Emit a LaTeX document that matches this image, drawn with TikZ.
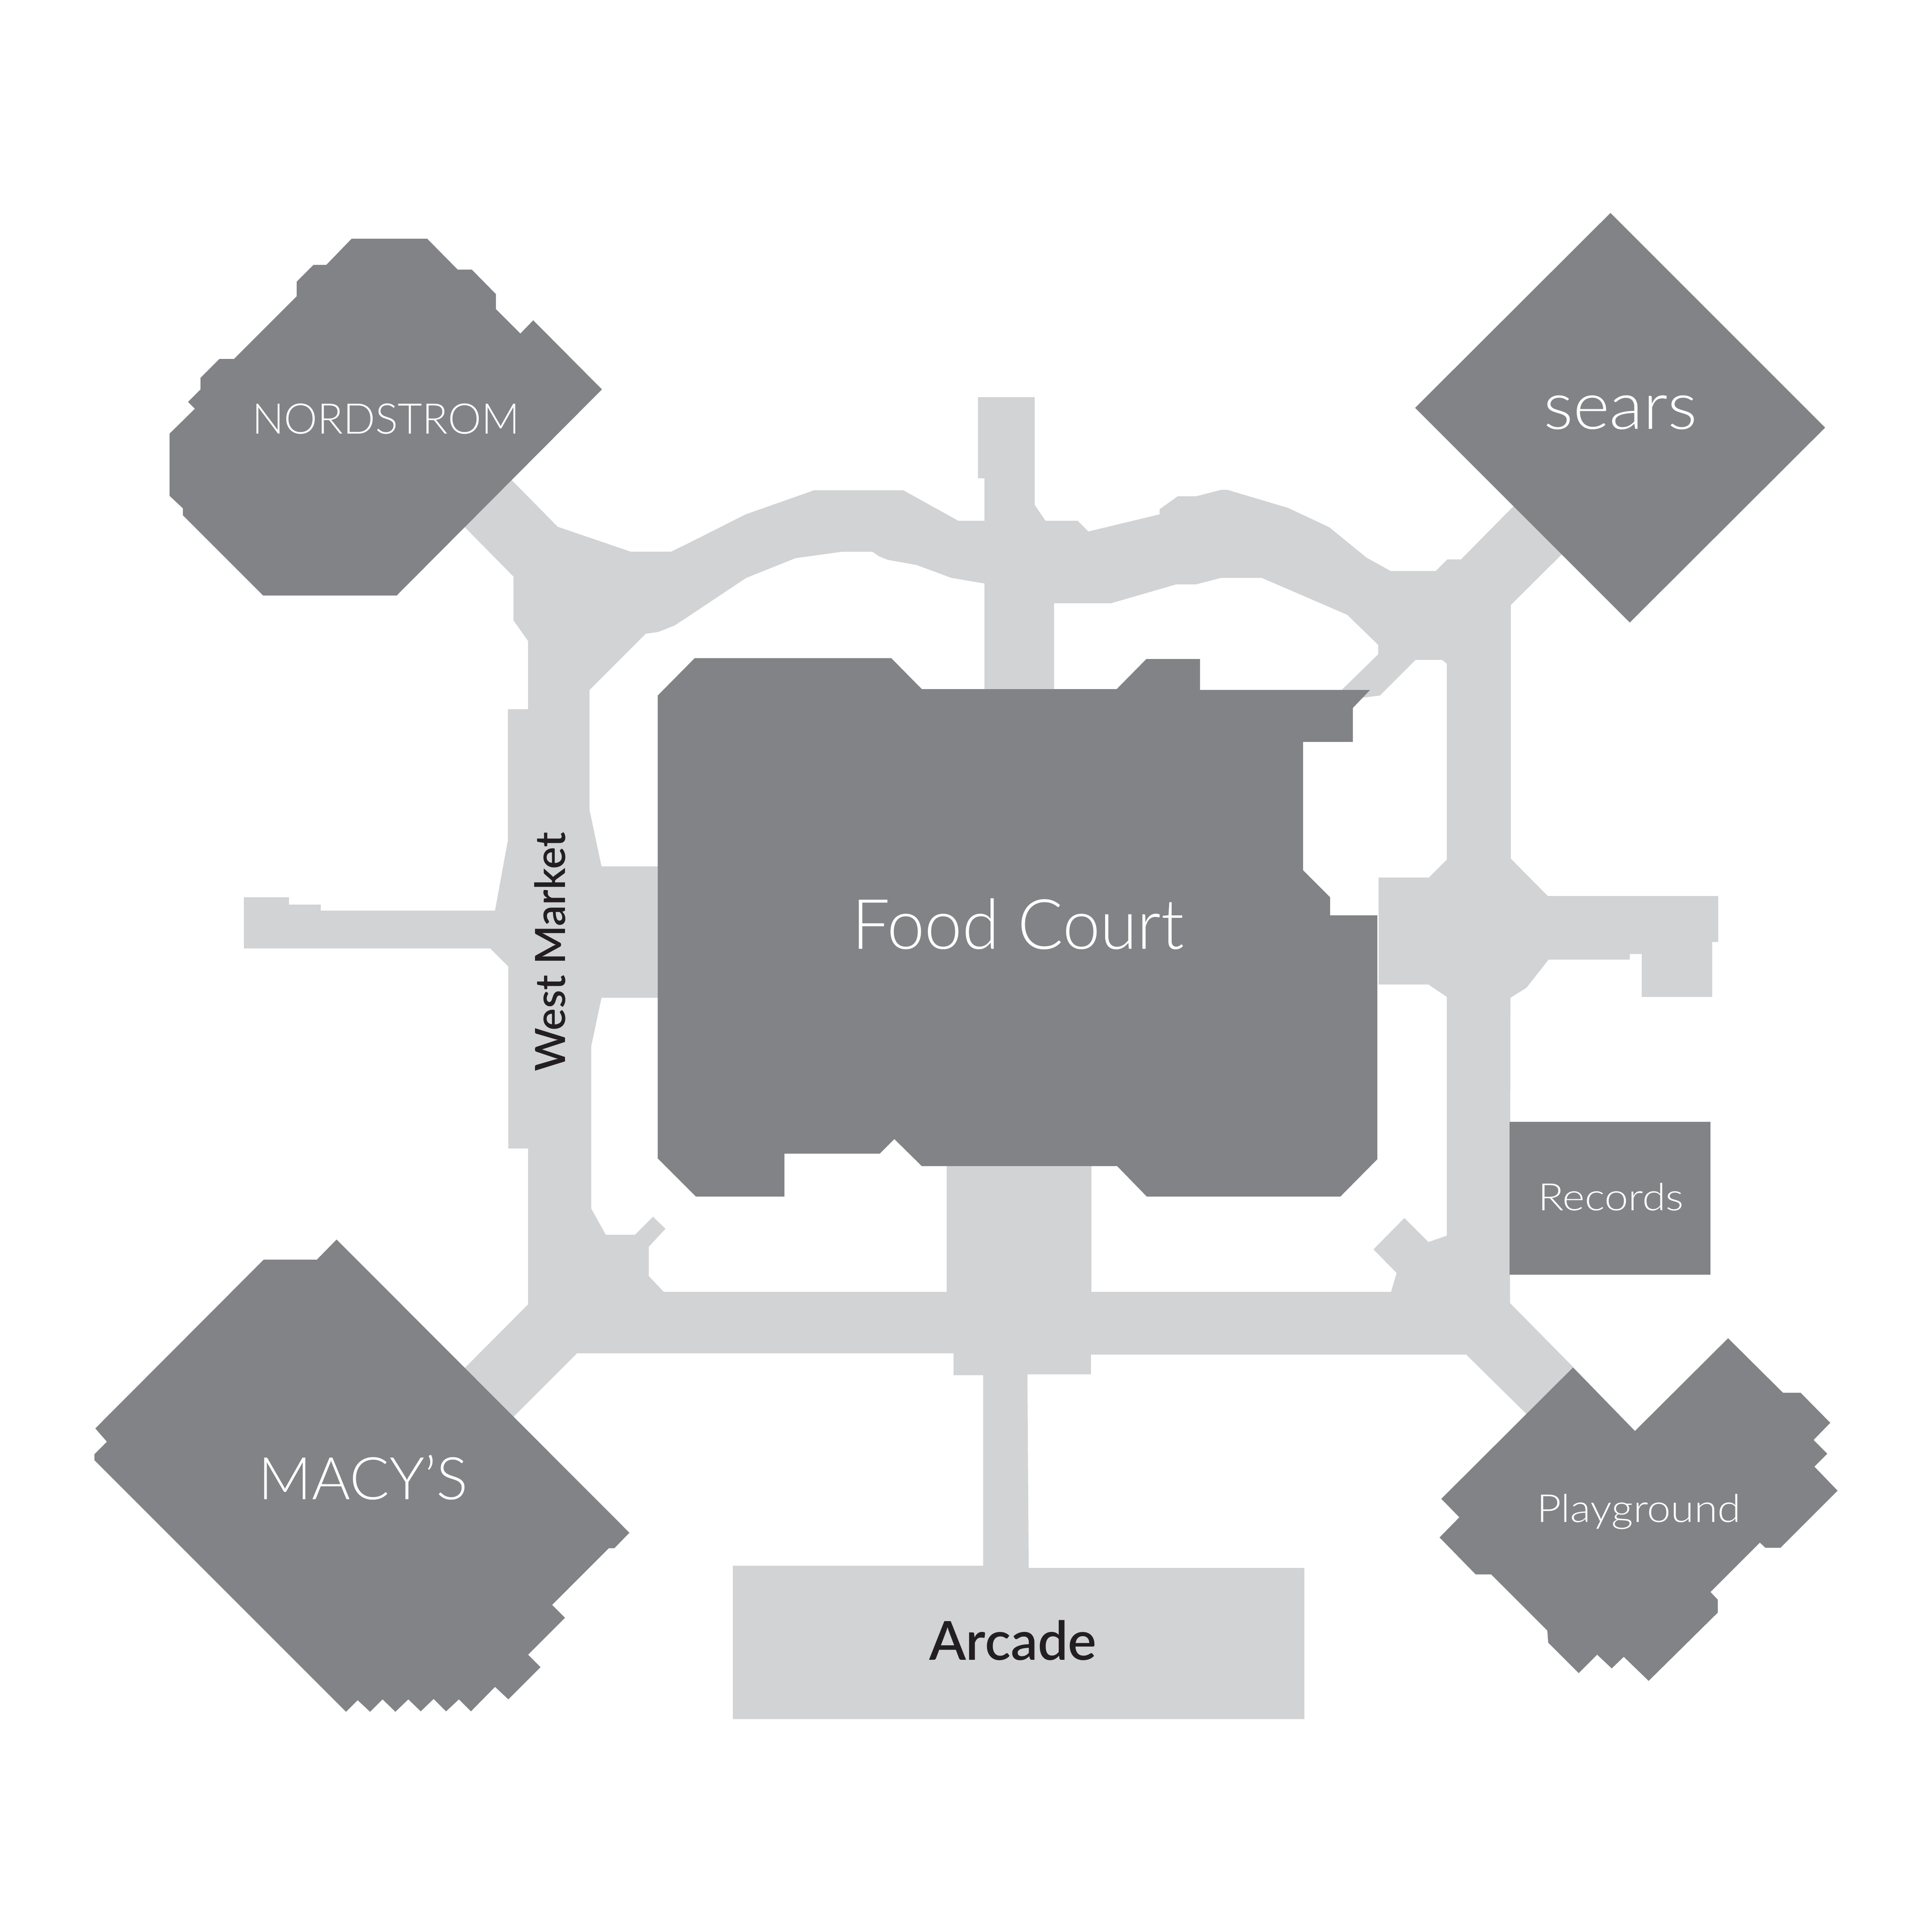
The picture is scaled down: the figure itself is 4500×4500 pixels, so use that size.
\documentclass[tikz,border=0pt]{standalone}
\usepackage{fontspec}
\setmainfont{Lato Light}
\newfontfamily\labelfont{Lato Semibold}
\definecolor{shop}{HTML}{828386}
\definecolor{hall}{HTML}{D1D3D4}
\definecolor{ink}{HTML}{231F20}
\tikzset{
  shop/.style={fill=shop,draw=none},
  hall/.style={fill=hall,draw=none,even odd rule},
  lightlabel/.style={text=white,anchor=base,inner sep=0pt},
  darklabel/.style={text=ink,anchor=base,inner sep=0pt}
}
\begin{document}
\begin{tikzpicture}[x=0.01cm,y=-0.01cm]
\useasboundingbox (0,0) rectangle (4500,4500);
% halls
\path[hall]
 (1170,1096) -- (1299,1227) -- (1469,1285) -- (1563,1285) -- (1600,1267) -- (1737,1198) -- (1896,1142) -- (2104,1142) -- (2232,1213) -- (2293,1213) -- (2293,1114) -- (2278,1114) -- (2278,925) -- (2410,925) -- (2410,1176) -- (2435,1213) -- (2510,1213) -- (2535,1238) -- (2701,1198) -- (2701,1186) -- (2743,1156) -- (2786,1156) -- (2844,1141) -- (2859,1141) -- (3000,1183) -- (3096,1228) -- (3183,1299) -- (3239,1330) -- (3344,1330) -- (3371,1303) -- (3403,1303) -- (3545,1159) -- (3658,1271) -- (3519,1409) -- (3519,2000) -- (3605,2087) -- (4002,2087) -- (4002,2194) -- (3988,2194) -- (3988,2322) -- (3824,2322) -- (3824,2222) -- (3796,2222) -- (3796,2235) -- (3607,2235) -- (3555,2301) -- (3518,2324) -- (3517,3035) -- (3664,3184) -- (3670,3200) -- (3565,3303) -- (3415,3155) -- (2541,3155) -- (2541,3201) -- (2393,3201) -- (2396,3652) -- (3038,3652) -- (3038,4004) -- (1707,4004) -- (1707,3647) -- (2290,3647) -- (2290,3203) -- (2221,3203) -- (2221,3152) -- (1344,3152) -- (1178,3318) -- (1062,3207) -- (1230,3038) -- (1230,2675) -- (1184,2675) -- (1184,2251) -- (1142,2209) -- (568,2209) -- (568,2090) -- (673,2090) -- (673,2107) -- (747,2107) -- (747,2121) -- (1153,2121) -- (1183,1957) -- (1183,1652) -- (1230,1652) -- (1230,1493) -- (1196,1445) -- (1196,1343) -- (1063,1208) -- cycle
 % top left opening
 (1373,1607) -- (1504,1476) -- (1533,1472) -- (1571,1457) -- (1600,1438) -- (1738,1346) -- (1853,1300) -- (1962,1285) -- (2032,1285) -- (2048,1296) -- (2068,1304) -- (2135,1316) -- (2216,1346) -- (2293,1359) -- (2293,1700) -- (1600,1700) -- (1600,2018) -- (1401,2018) -- (1373,1886) -- cycle
 % top right opening
 (2455,1615) -- (2455,1405) -- (2588,1405) -- (2740,1361) -- (2786,1361) -- (2844,1346) -- (2939,1346) -- (3138,1432) -- (3210,1502) -- (3210,1524) -- (3125,1607) -- (3117,1615) -- cycle
 % right opening
 (3000,1640) -- (3174,1625) -- (3214,1620) -- (3297,1537) -- (3359,1537) -- (3370,1546) -- (3370,2002) -- (3328,2044) -- (3211,2044) -- (3211,2293) -- (3327,2293) -- (3370,2322) -- (3370,2878) -- (3327,2893) -- (3271,2837) -- (3199,2910) -- (3253,2965) -- (3240,3009) -- (2542,3009) -- (2542,2640) -- (3000,2640) -- cycle
 % lower left opening
 (1401,2324) -- (1377,2437) -- (1377,2815) -- (1411,2876) -- (1479,2876) -- (1521,2834) -- (1550,2862) -- (1511,2904) -- (1511,2972) -- (1546,3009) -- (2205,3009) -- (2205,2640) -- (1600,2640) -- (1600,2324) -- cycle;
% shops
\path[shop] (819,556) -- (995,556) -- (1066,628) -- (1099,628) -- (1155,685) -- (1155,720) -- (1212,777) -- (1242,746) -- (1402,907) -- (924,1387) -- (613,1387) -- (426,1200) -- (426,1184) -- (395,1155) -- (395,1010) -- (454,952) -- (438,936) -- (467,907) -- (467,880) -- (511,836) -- (545,836) -- (691,690) -- (691,656) -- (730,617) -- (760,617) -- cycle;
\path[shop] (3751,496) -- (4251,996) -- (3796,1450) -- (3296,950) -- cycle;
\path[shop] (1532,1620) -- (1618,1533) -- (2076,1533) -- (2147,1605) -- (2601,1605) -- (2670,1535) -- (2795,1535) -- (2795,1607) -- (3191,1607) -- (3151,1649) -- (3151,1728) -- (3035,1728) -- (3035,2027) -- (3098,2090) -- (3098,2132) -- (3208,2132) -- (3208,2700) -- (3122,2787) -- (2671,2787) -- (2602,2716) -- (2147,2716) -- (2083,2653) -- (2049,2687) -- (1827,2687) -- (1827,2787) -- (1621,2787) -- (1532,2698) -- cycle;
\path[shop] (3516,2613) rectangle (3984,2969);
\path[shop] (4025,3117) -- (4153,3244) -- (4194,3244) -- (4263,3314) -- (4224,3354) -- (4256,3386) -- (4226,3416) -- (4280,3472) -- (4147,3605) -- (4112,3605) -- (4099,3593) -- (3984,3708) -- (4001,3726) -- (4001,3756) -- (3840,3915) -- (3782,3859) -- (3754,3886) -- (3720,3854) -- (3677,3897) -- (3606,3826) -- (3604,3798) -- (3473,3667) -- (3437,3667) -- (3353,3581) -- (3399,3534) -- (3357,3491) -- (3664,3185) -- (3808,3333) -- cycle;
\path[shop] (784,2887) -- (1466,3570) -- (1431,3606) -- (1418,3606) -- (1286,3738) -- (1316,3768) -- (1230,3854) -- (1259,3883) -- (1184,3958) -- (1153,3929) -- (1097,3986) -- (1069,3958) -- (1039,3986) -- (1010,3957) -- (980,3986) -- (951,3958) -- (921,3987) -- (891,3958) -- (862,3987) -- (833,3960) -- (806,3987) -- (220,3401) -- (220,3387) -- (249,3358) -- (222,3327) -- (614,2934) -- (738,2934) -- cycle;
% labels
\node[lightlabel,font=\fontsize{28}{28}\selectfont] (nordstrom) at (899,1010) {NORDSTROM};
\node[lightlabel,font=\fontsize{44}{44}\selectfont] (sears) at (3774,999) {\scalebox{1.05}[1]{sears}};
\node[lightlabel,font=\fontsize{46}{46}\selectfont] (food) at (2371,2210) {\scalebox{0.97}[1]{Food Court}};
\node[lightlabel,font=\fontsize{25}{25}\selectfont] (records) at (3752,2819) {\scalebox{1.13}[1]{Records}};
\node[lightlabel,font=\fontsize{25.6}{25.6}\selectfont] (playground) at (3817,3545) {\scalebox{1.10}[1]{Playground}};
\node[lightlabel,font=\fontsize{39}{39}\selectfont] (macys) at (846,3492) {MACY’S};
\node[darklabel,rotate=90,font=\labelfont\fontsize{27.6}{27.6}\selectfont] (west) at (1316,2217) {West Market};
\node[darklabel,font=\labelfont\fontsize{35.6}{35.6}\selectfont] (arcade) at (2359,3866) {Arcade};
\end{tikzpicture}
\end{document}
